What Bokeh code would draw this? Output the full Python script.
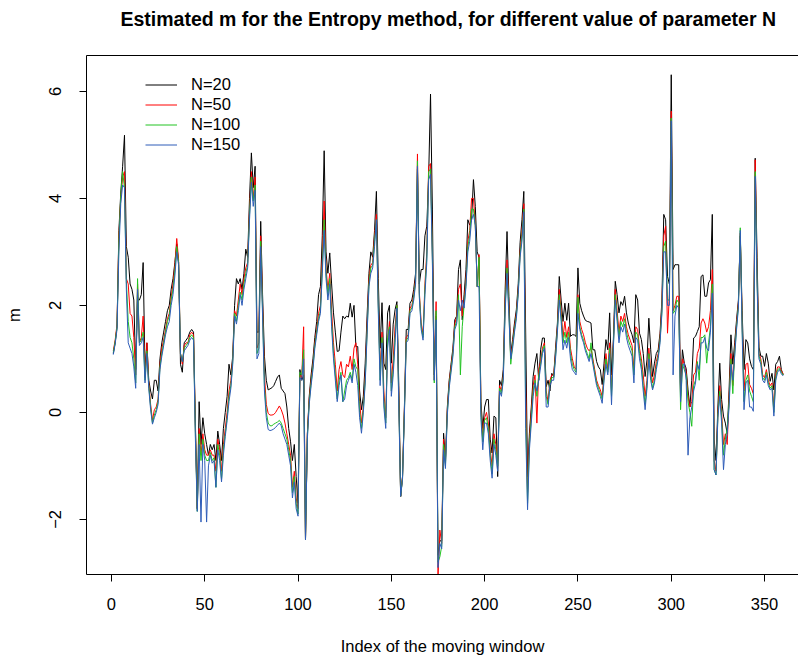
from bokeh.plotting import figure
from bokeh.models import Range1d, FixedTicker, Legend, LegendItem, LinearAxis
from bokeh.embed import file_html
from bokeh.resources import INLINE

# Estimated m for each moving-window index, one series per value of N
n20 = [
    1.10, 1.30, 1.60, 3.40, 4.10, 4.60, 5.18, 3.10, 2.90, 2.40,
    2.30, 2.10, 0.80, 2.10, 2.10, 2.20, 2.80, 0.80, 1.30, 0.60,
    0.40, 0.25, 0.60, 0.60, 0.40, 1.00, 1.30, 1.50, 1.70, 1.90,
    2.00, 2.30, 2.50, 2.80, 3.15, 2.80, 0.90, 0.75, 1.30, 1.35,
    1.40, 1.50, 1.55, 1.50, -0.20, -1.80, 0.20, -0.60, -0.10, -0.40,
    -0.60, -0.80, -0.60, -0.70, -0.60, -0.90, -0.35, -0.60, -0.90, -0.30,
    0.00, 0.30, 0.90, 0.70, 1.05, 2.00, 2.50, 2.40, 2.50, 2.30,
    2.60, 3.05, 2.90, 4.00, 4.85, 4.20, 4.60, 1.50, 1.50, 3.57,
    2.20, 1.05, 0.60, 0.42, 0.44, 0.46, 0.50, 0.58, 0.66, 0.70,
    0.45, 0.40, 0.35, 0.10, -0.30, -0.55, -0.90, -0.60, -1.20, -1.70,
    0.80, 0.60, 0.70, -2.38, -0.40, 0.30, 0.70, 1.00, 1.40, 1.70,
    2.20, 2.35, 3.30, 4.89, 3.00, 2.60, 2.98, 2.40, 1.86, 1.50,
    1.14, 1.15, 1.50, 1.80, 1.75, 1.80, 1.78, 2.04, 1.78, 2.00,
    1.23, 1.23, 0.40, 0.05, 0.30, 0.92, 1.80, 2.60, 3.00, 2.90,
    3.40, 4.13, 2.50, 1.20, 2.05, 0.92, 0.80, 1.86, 2.00, 0.92,
    1.65, 1.92, 2.07, 0.50, -1.57, -1.20, 0.10, 1.55, 1.55, 2.04,
    2.10, 2.30, 2.60, 4.55, 2.40, 2.67, 2.67, 3.30, 3.48, 4.40,
    5.95, 3.80, 0.70, 1.80, -2.67, -2.40, -2.40, -0.39, -0.88, 0.10,
    0.60, 0.90, 1.20, 1.73, 1.80, 2.67, 2.85, 1.73, 2.20, 2.67,
    3.60, 3.50, 3.60, 4.35, 3.85, 3.00, 2.90, 0.20, -0.30, 0.10,
    0.24, 0.24, -0.50, -0.76, -0.07, -0.10, -1.20, 0.60, 0.50, 0.80,
    2.30, 3.38, 2.17, 1.10, 1.36, 1.67, 1.92, 2.40, 3.17, 3.60,
    4.13, 1.50, -1.20, -0.39, 0.10, 0.67, 0.92, 1.10, 0.60, 1.17,
    1.39, 1.39, 0.48, 0.60, 0.40, 0.73, 0.67, 1.20, 1.67, 2.54,
    2.10, 1.70, 2.04, 1.72, 2.04, 1.42, 1.45, 1.45, 1.42, 2.70,
    2.04, 1.90, 1.80, 1.72, 1.70, 1.69, 1.67, 1.17, 1.17, 0.95,
    0.85, 0.80, 0.52, 0.92, 1.36, 1.17, 1.86, 0.70, 1.36, 2.45,
    2.20, 1.86, 2.07, 2.00, 2.17, 1.86, 1.67, 1.55, 1.45, 1.30,
    2.20, 2.10, 1.48, 1.36, 1.10, 0.67, 0.98, 1.76, 1.17, 0.67,
    0.92, 1.10, 1.17, 1.48, 2.10, 3.70, 3.60, 2.54, 2.40, 6.31,
    2.67, 2.76, 2.76, 2.76, 0.40, 1.17, 0.92, 0.82, 0.42, 0.10,
    0.60, 1.39, 1.42, 1.51, 1.60, 2.54, 2.57, 2.17, 2.17, 2.42,
    2.48, 3.70, -0.50, -0.90, 0.10, 0.92, 0.24, -0.07, -0.20, -0.40,
    0.42, 1.45, 0.90, 1.30, 1.73, 2.10, 3.30, 1.90, 0.80, 1.36,
    1.30, 1.00, 0.86, 0.80, 4.75, 2.90, 1.22, 1.05, 1.05, 0.86,
    1.10, 0.92, 0.58, 0.73, 0.42, 0.90, 0.95, 1.05, 0.80, 0.70,
]

n50 = [
    1.15, 1.35, 1.65, 3.30, 4.00, 4.40, 4.50, 2.50, 2.40, 1.85,
    1.80, 1.40, 0.70, 2.40, 1.30, 1.40, 1.80, 0.65, 1.30, 0.55,
    0.15, -0.15, 0.05, 0.10, 0.25, 0.90, 1.20, 1.35, 1.55, 1.75,
    1.85, 2.15, 2.40, 2.75, 3.25, 2.85, 1.10, 0.90, 1.25, 1.30,
    1.30, 1.45, 1.50, 1.45, -0.30, -1.80, -0.30, -0.80, -0.40, -0.70,
    -0.80, -0.80, -0.70, -0.80, -0.80, -1.10, -0.50, -0.70, -1.10, -0.60,
    -0.30, 0.00, 0.40, 0.60, 1.00, 1.90, 1.80, 2.10, 2.40, 2.20,
    2.50, 2.70, 2.80, 3.80, 4.50, 4.00, 4.40, 1.20, 1.30, 3.30,
    2.00, 0.70, 0.15, -0.02, -0.05, -0.05, -0.04, 0.00, 0.06, 0.12,
    0.05, -0.05, -0.20, -0.40, -0.60, -0.80, -1.40, -1.10, -1.60, -1.80,
    0.70, 0.65, 1.60, -2.38, -0.40, 0.25, 0.60, 0.90, 1.30, 1.55,
    1.85, 2.00, 2.90, 3.95, 2.70, 2.30, 2.60, 1.90, 1.30, 0.90,
    0.40, 0.80, 0.95, 0.70, 0.65, 0.90, 0.85, 1.05, 0.80, 1.20,
    1.30, 0.90, 0.20, -0.20, 0.10, 0.70, 1.60, 2.50, 2.75, 2.80,
    3.30, 3.70, 2.10, 0.80, 1.50, 0.40, -0.10, 1.30, 1.70, 0.55,
    1.00, 1.60, 2.00, 0.30, -1.57, -1.20, 0.05, 1.40, 1.45, 1.95,
    2.00, 2.20, 2.50, 4.83, 2.25, 1.67, 1.45, 2.40, 3.00, 4.60,
    4.65, 3.00, 0.60, 2.07, -3.10, -2.20, -2.45, -0.50, -0.95, 0.05,
    0.55, 0.85, 1.15, 1.65, 1.80, 2.30, 2.40, 1.80, 2.10, 2.50,
    3.20, 3.40, 4.00, 4.00, 3.50, 2.35, 2.95, 0.10, -0.45, -0.10,
    0.00, -0.20, -0.70, -1.00, -0.40, -0.60, -0.90, 0.50, 0.40, 0.70,
    2.10, 2.85, 2.00, 1.00, 1.30, 1.60, 1.85, 2.30, 3.00, 3.40,
    3.90, 0.50, -1.50, -0.50, 0.00, 0.50, 0.70, -0.20, 0.80, 0.95,
    1.20, 1.30, 0.40, 0.20, 0.60, 0.70, 0.70, 1.10, 1.60, 2.30,
    1.90, 1.40, 1.70, 1.40, 1.60, 1.20, 1.00, 0.85, 0.80, 2.20,
    1.70, 1.55, 1.45, 1.30, 1.20, 1.15, 1.20, 1.00, 0.80, 0.60,
    0.50, 0.42, 0.30, 0.70, 1.10, 0.80, 1.30, 0.40, 1.30, 2.30,
    1.90, 1.50, 1.80, 1.70, 1.85, 1.60, 1.45, 1.35, 1.25, 0.80,
    1.60, 1.55, 1.20, 1.00, 0.70, 0.30, 0.60, 1.20, 0.80, 0.55,
    0.70, 0.95, 1.10, 1.40, 2.00, 3.30, 3.48, 1.48, 2.20, 5.63,
    1.90, 2.00, 2.17, 2.17, 0.30, 1.00, 0.90, 0.75, 0.30, 0.10,
    0.20, 0.70, 0.75, 1.10, 1.20, 1.67, 1.75, 1.67, 1.50, 1.60,
    1.90, 2.67, -0.90, -1.10, 0.00, 0.50, 0.00, -0.60, -0.40, -0.60,
    0.30, 1.10, 0.50, 1.20, 1.65, 2.05, 3.35, 1.70, 0.40, 0.90,
    0.92, 0.52, 0.45, 0.35, 4.72, 2.60, 1.10, 1.00, 0.70, 0.65,
    0.80, 0.60, 0.50, 0.55, 0.10, 0.70, 0.85, 0.85, 0.78, 0.72,
]

n100 = [
    1.12, 1.32, 1.60, 3.20, 4.05, 4.50, 4.20, 2.45, 1.70, 1.40,
    1.30, 1.00, 0.55, 2.50, 1.30, 1.35, 1.50, 0.60, 1.15, 0.50,
    0.10, -0.20, -0.05, 0.05, 0.20, 0.85, 1.10, 1.30, 1.50, 1.70,
    1.80, 2.10, 2.30, 2.65, 3.10, 2.80, 1.10, 0.95, 1.20, 1.25,
    1.30, 1.40, 1.45, 1.40, -0.40, -1.85, -0.40, -0.90, -0.50, -0.80,
    -0.90, -0.90, -0.75, -0.90, -0.85, -1.40, -0.60, -0.80, -1.25, -0.70,
    -0.40, -0.10, 0.30, 0.50, 0.95, 1.85, 1.70, 2.00, 2.25, 2.10,
    2.40, 2.60, 2.75, 3.70, 4.40, 3.95, 4.25, 1.10, 1.20, 3.20,
    1.90, 0.50, 0.00, -0.20, -0.25, -0.25, -0.22, -0.20, -0.18, -0.15,
    -0.20, -0.30, -0.40, -0.50, -0.70, -0.90, -1.50, -1.20, -1.70, -1.90,
    0.75, 0.70, 1.17, -2.38, -0.45, 0.20, 0.55, 0.85, 1.25, 1.50,
    1.75, 1.90, 2.70, 3.60, 2.60, 2.20, 2.50, 1.70, 1.10, 0.70,
    0.25, 0.60, 0.75, 0.20, 0.40, 0.60, 0.65, 0.75, 0.60, 1.00,
    0.85, 0.80, 0.00, -0.30, 0.05, 0.60, 1.50, 2.40, 2.70, 2.75,
    3.20, 3.60, 2.00, 0.60, 1.40, 0.20, -0.20, 1.40, 1.60, 0.40,
    0.80, 1.40, 2.00, 0.20, -1.57, -1.22, 0.00, 1.35, 1.40, 1.90,
    1.95, 2.15, 2.45, 4.70, 2.20, 1.60, 1.40, 2.30, 2.90, 4.50,
    4.55, 2.90, 0.55, 1.90, -2.80, -2.70, -2.50, -0.60, -1.00, 0.00,
    0.50, 0.80, 1.10, 1.60, 1.70, 2.20, 0.70, 1.60, 2.00, 2.40,
    3.10, 3.30, 3.80, 3.80, 3.50, 2.35, 2.90, 0.00, -0.55, -0.15,
    -0.10, -0.30, -0.80, -1.15, -0.50, -0.70, -1.00, 0.45, 0.35, 0.65,
    2.00, 2.70, 1.90, 0.90, 1.25, 1.55, 1.80, 2.25, 2.95, 3.30,
    3.80, 0.00, -1.70, -0.60, -0.10, 0.40, 0.60, 0.30, 0.70, 0.90,
    1.15, 1.25, 0.30, 0.15, 0.55, 0.65, 0.65, 1.05, 1.55, 2.20,
    1.80, 1.30, 1.50, 1.30, 1.50, 1.10, 0.90, 0.80, 0.75, 2.15,
    1.60, 1.45, 1.35, 1.20, 1.10, 1.00, 1.30, 0.95, 0.75, 0.55,
    0.45, 0.35, 0.25, 0.65, 1.00, 0.75, 1.20, 0.30, 1.25, 2.20,
    1.80, 1.40, 1.70, 1.60, 1.75, 1.50, 1.35, 1.25, 1.15, 0.70,
    1.50, 1.45, 1.10, 0.90, 0.50, 0.15, 0.50, 1.10, 0.70, 0.45,
    0.60, 0.85, 1.05, 1.35, 1.90, 3.10, 3.20, 2.10, 2.10, 5.50,
    1.85, 1.90, 2.10, 2.05, 0.05, 0.90, 0.80, 0.70, 0.20, 0.00,
    -0.26, 0.50, 0.60, 0.95, 0.60, 1.40, 1.40, 1.45, 0.92, 1.30,
    1.60, 2.40, -1.07, -1.17, -0.05, 0.40, -0.10, -0.80, -0.50, -0.30,
    0.20, 1.00, 0.35, 1.10, 1.60, 2.00, 3.45, 1.60, 0.20, 0.60,
    0.70, 0.40, 0.30, 0.20, 4.50, 2.50, 1.05, 0.95, 0.65, 0.60,
    0.75, 0.55, 0.45, 0.50, 0.00, 0.65, 0.80, 0.82, 0.75, 0.70,
]

n150 = [
    1.08, 1.28, 1.55, 3.00, 3.90, 4.25, 4.20, 2.30, 1.30, 1.20,
    1.10, 0.85, 0.45, 2.30, 1.25, 1.30, 1.40, 0.55, 1.10, 0.45,
    0.05, -0.22, -0.10, 0.00, 0.15, 0.80, 1.05, 1.25, 1.45, 1.60,
    1.70, 2.00, 2.20, 2.55, 3.00, 2.75, 1.10, 0.95, 1.15, 1.20,
    1.25, 1.35, 1.40, 1.35, -0.50, -1.85, -0.60, -2.05, -0.60, -0.90,
    -2.05, -1.00, -0.80, -0.95, -0.90, -1.40, -0.70, -0.90, -1.30, -0.80,
    -0.45, -0.15, 0.20, 0.45, 0.90, 1.80, 1.65, 1.90, 2.20, 2.00,
    2.30, 2.50, 2.70, 3.60, 4.30, 3.85, 4.15, 1.00, 1.10, 3.10,
    1.80, 0.40, -0.10, -0.32, -0.34, -0.33, -0.31, -0.28, -0.24, -0.20,
    -0.25, -0.40, -0.50, -0.60, -0.80, -1.00, -1.60, -1.30, -1.80, -1.94,
    0.65, 0.60, 1.00, -2.38, -0.50, 0.15, 0.50, 0.80, 1.20, 1.45,
    1.70, 1.85, 2.60, 3.40, 2.50, 2.10, 2.40, 1.60, 1.00, 0.60,
    0.20, 0.50, 0.70, 0.20, 0.25, 0.50, 0.60, 0.70, 0.55, 0.90,
    0.75, 0.50, -0.10, -0.39, 0.00, 0.55, 1.45, 2.35, 2.60, 2.70,
    3.10, 3.60, 1.90, 0.50, 1.30, 0.10, -0.30, 1.20, 1.55, 0.30,
    0.70, 1.30, 1.95, 0.10, -1.57, -1.25, -0.05, 1.30, 1.35, 1.85,
    1.90, 2.10, 2.40, 4.60, 2.15, 1.55, 1.35, 2.20, 2.80, 4.35,
    4.45, 2.80, 0.60, 1.73, -2.90, -2.45, -2.55, -0.70, -1.05, -0.05,
    0.45, 0.75, 1.05, 1.55, 1.65, 2.10, 1.90, 2.10, 1.95, 2.35,
    3.00, 3.20, 3.60, 3.70, 3.50, 2.35, 2.35, -0.10, -0.70, -0.20,
    -0.20, -0.40, -0.90, -1.23, -0.60, -0.80, -1.10, 0.40, 0.30, 0.60,
    1.90, 2.60, 1.80, 1.00, 1.20, 1.50, 1.75, 2.20, 2.90, 3.20,
    3.75, -0.30, -1.82, -0.70, -0.20, 0.30, 0.55, 0.40, 0.60, 0.85,
    1.10, 1.20, 0.10, 0.10, 0.50, 0.60, 0.60, 1.00, 1.50, 2.10,
    1.70, 1.17, 1.35, 1.20, 1.40, 1.00, 0.80, 0.75, 0.70, 1.85,
    1.55, 1.40, 1.30, 1.15, 1.05, 0.95, 1.10, 0.90, 0.70, 0.50,
    0.40, 0.30, 0.17, 0.60, 0.90, 0.70, 1.10, 0.14, 1.20, 2.10,
    1.70, 1.30, 1.60, 1.50, 1.65, 1.40, 1.25, 1.15, 1.05, 0.55,
    1.40, 1.35, 1.00, 0.80, 0.40, 0.05, 0.45, 1.00, 0.60, 0.42,
    0.55, 0.80, 1.00, 1.30, 1.85, 3.00, 3.00, 2.00, 2.00, 5.45,
    0.70, 1.80, 2.00, 1.95, 0.20, 0.85, 0.92, 0.60, -0.80, -0.10,
    0.10, 0.40, 0.55, 0.90, 0.80, 1.30, 1.30, 1.40, 1.20, 1.15,
    1.50, 2.23, -1.07, -1.17, -0.10, 0.30, -0.20, -1.07, -0.60, -0.40,
    0.10, 0.90, 0.60, 1.05, 1.55, 1.95, 3.40, 1.50, 0.05, 0.55,
    0.60, 0.10, 0.10, 0.02, 4.41, 2.40, 1.00, 0.90, 0.60, 0.55,
    0.70, 0.50, 0.42, 0.45, -0.07, 0.60, 0.75, 0.80, 0.72, 0.68,
]

window_index = list(range(1, len(n20) + 1))

series_labels = ["N=20", "N=50", "N=100", "N=150"]
series_colors = ["#000000", "#FF0000", "#22C322", "#2F5DB8"]
x_ticks = [0, 50, 100, 150, 200, 250, 300, 350]
y_ticks = [-2, 0, 2, 4, 6]
title_text = "Estimated m for the Entropy method, for different value of parameter N"

FONT = "Liberation Sans"

p = figure(
    width=798, height=657,
    output_backend="svg", toolbar_location=None,
    x_range=Range1d(-13.36, 368.2), y_range=Range1d(-3.03, 6.67),
    min_border_left=86, min_border_right=0,
    min_border_top=55, min_border_bottom=83,
    x_axis_label="Index of the moving window", y_axis_label="m",
    title=title_text,
)
p.background_fill_color = "white"
p.border_fill_color = "white"
p.outline_line_color = None
p.grid.visible = False

p.title.align = "left"
p.title.offset = 34
p.title.vertical_align = "bottom"
p.title.standoff = 4
p.title.text_font = FONT
p.title.text_font_style = "bold"
p.title.text_font_size = "19.5px"
p.title.text_color = "black"

for ax in (p.xaxis[0], p.yaxis[0]):
    ax.axis_line_color = "black"
    ax.axis_line_width = 1
    ax.major_tick_line_color = "black"
    ax.major_tick_out = 7
    ax.major_tick_in = 0
    ax.minor_tick_line_color = None
    ax.major_label_text_font = FONT
    ax.major_label_text_font_size = "16.5px"
    ax.major_label_text_color = "black"
    ax.axis_label_text_font = FONT
    ax.axis_label_text_font_size = "16.5px"
    ax.axis_label_text_font_style = "normal"
    ax.axis_label_text_color = "black"

p.xaxis.ticker = FixedTicker(ticks=x_ticks)
p.yaxis.ticker = FixedTicker(ticks=y_ticks)
p.xaxis.major_label_standoff = 16
p.xaxis.axis_label_standoff = 24
p.yaxis.major_label_orientation = "parallel"
p.yaxis.major_label_standoff = 18
p.yaxis.axis_label_standoff = 24

# tick-free axis along the top: draws the upper edge of the box, and its
# blank label keeps a gap between the box and the title
top_edge = LinearAxis(
    ticker=FixedTicker(ticks=[]),
    axis_line_color="black", axis_line_width=1,
    major_tick_out=0, major_tick_in=0, major_label_standoff=0,
    major_tick_line_color=None, minor_tick_line_color=None,
    axis_label=" ", axis_label_standoff=4,
    axis_label_text_font=FONT, axis_label_text_font_size="16px",
)
p.add_layout(top_edge, "above")

items = []
for ys, lab, col in zip([n20, n50, n100, n150], series_labels, series_colors):
    r = p.line(window_index, ys, line_color=col, line_width=1)
    items.append(LegendItem(label=lab, renderers=[r]))

legend = Legend(
    items=items, location=(59, 420),
    border_line_color=None, background_fill_alpha=0,
    padding=0, margin=0, spacing=1,
    glyph_width=32, glyph_height=17, label_height=17,
    label_standoff=14,
    label_text_font=FONT, label_text_font_size="16.5px",
    label_text_color="black",
)
p.add_layout(legend, "center")

open("out.html", "w").write(file_html(p, INLINE))
